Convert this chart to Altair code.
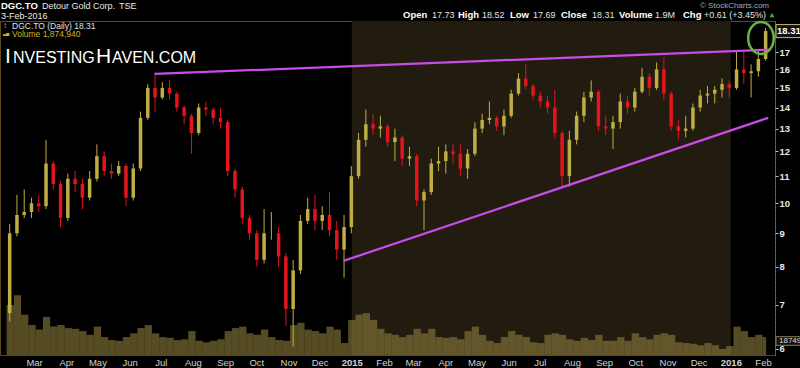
import altair as alt
import pandas as pd
import numpy as np

# ---------------- data (weekly bars) ----------------
week_start = pd.date_range("2014-02-03", periods=105, freq="7D")

first_open = 6.8
closes = [9.0, 9.6, 9.7, 10.0, 9.9, 11.5, 10.7, 9.5, 10.9, 10.7,
          10.2, 10.9, 11.8, 11.2, 11.1, 11.4, 10.2, 11.3, 13.5, 15.0,
          14.5, 15.0, 14.7, 14.0, 13.6, 12.8, 14.0, 13.9, 13.5, 13.3,
          11.2, 10.5, 9.5, 9.0, 8.2, 9.0, 9.0, 8.3, 6.9, 7.9,
          9.4, 9.8, 9.4, 9.6, 9.1, 8.5, 9.2, 11.0, 12.5, 13.2,
          13.0, 13.1, 12.4, 12.6, 11.7, 11.8, 10.1, 10.4, 11.5, 11.6,
          12.0, 11.9, 11.3, 11.9, 13.0, 13.4, 13.5, 13.1, 13.6, 14.7,
          15.5, 15.1, 14.6, 14.3, 14.0, 12.8, 11.0, 12.5, 13.6, 14.5,
          14.8, 13.1, 13.0, 13.3, 14.3, 14.0, 14.8, 15.6, 15.0, 16.0,
          14.7, 13.1, 12.9, 13.0, 14.0, 14.6, 14.7, 14.9, 15.2, 15.0,
          16.0, 15.8, 15.9, 16.6, 18.31]
highs = [9.3, 10.3, 10.5, 10.2, 10.3, 12.5, 11.6, 10.8, 11.1, 11.2,
         10.9, 11.2, 12.3, 12.0, 11.5, 11.6, 11.5, 11.5, 13.8, 15.2,
         15.7, 15.3, 15.4, 14.8, 14.1, 13.7, 14.2, 14.3, 14.0, 14.0,
         13.4, 11.3, 10.6, 9.6, 9.1, 9.8, 9.7, 9.2, 8.4, 8.2,
         9.6, 10.2, 10.3, 9.9, 10.4, 9.4, 9.6, 11.4, 12.8, 13.9,
         13.7, 13.6, 13.2, 13.0, 12.7, 12.2, 11.9, 10.5, 11.7, 12.2,
         12.3, 12.3, 12.3, 12.1, 13.3, 13.7, 14.3, 13.6, 13.9, 14.9,
         15.8, 16.3, 15.2, 14.8, 14.6, 14.9, 12.9, 12.9, 13.8, 14.8,
         15.4, 14.9, 13.6, 13.6, 14.7, 14.6, 15.0, 16.1, 15.8, 16.4,
         16.7, 14.8, 13.4, 13.6, 14.2, 14.9, 15.1, 15.1, 15.5, 15.4,
         17.1, 17.0, 16.3, 17.1, 18.52]
lows = [6.6, 8.9, 9.5, 9.5, 9.7, 9.8, 10.5, 9.2, 9.4, 10.4,
        9.8, 10.1, 10.8, 11.0, 10.9, 11.0, 9.9, 10.1, 11.2, 13.4,
        13.8, 14.4, 14.4, 13.8, 13.2, 11.9, 12.7, 13.6, 13.2, 13.0,
        11.0, 10.2, 9.3, 8.8, 8.0, 8.1, 8.8, 8.0, 6.5, 6.05,
        7.8, 9.3, 9.1, 9.1, 8.9, 8.2, 7.7, 9.0, 10.9, 12.2,
        12.7, 12.6, 12.2, 11.6, 11.4, 11.4, 9.9, 9.1, 10.3, 11.2,
        11.1, 11.5, 11.0, 10.9, 11.8, 12.8, 13.2, 12.9, 12.7, 13.5,
        14.6, 14.9, 14.4, 14.0, 13.7, 12.6, 10.6, 10.6, 12.3, 13.3,
        14.3, 12.9, 12.7, 12.1, 13.0, 13.7, 13.8, 14.7, 14.6, 14.9,
        14.4, 12.9, 12.5, 12.6, 12.9, 13.8, 14.2, 14.2, 14.5, 14.5,
        14.9, 15.2, 14.5, 15.6, 16.5]
# average daily volume per week, millions
volumes_m = [6.7, 8.0, 5.4, 4.0, 3.4, 5.1, 3.8, 4.0, 3.6, 3.5,
             3.2, 2.7, 3.8, 2.4, 2.0, 1.9, 2.4, 2.9, 3.6, 4.0,
             2.9, 2.4, 2.3, 2.0, 2.1, 3.2, 1.9, 1.7, 1.9, 2.1,
             3.2, 3.6, 3.8, 2.9, 2.7, 3.4, 2.4, 2.0, 1.9, 4.0,
             4.3, 3.4, 3.2, 2.9, 3.8, 3.4, 1.6, 4.7, 5.4, 5.6,
             4.7, 3.5, 2.9, 2.7, 2.4, 2.7, 3.5, 2.9, 3.5, 2.4,
             2.3, 2.4, 2.1, 3.2, 3.8, 2.7, 1.9, 1.6, 2.4, 3.2,
             2.7, 2.4, 1.7, 1.6, 2.7, 2.9, 2.7, 2.1, 1.9, 2.3,
             2.0, 2.7, 1.9, 1.9, 2.4, 1.9, 2.9, 2.4, 2.1, 2.7,
             2.9, 2.7, 1.7, 1.6, 1.5, 1.3, 1.6, 1.3, 0.8, 1.2,
             3.8, 3.2, 2.4, 2.7, 2.4]

trend_dates = ["2014-06-25", "2016-02-07", "2014-12-24", "2016-02-06"]
trend_prices = [15.75, 17.15, 8.17, 13.5]
trend_ids = ["upper", "upper", "lower", "lower"]

last_close = 18.31
last_volume_m = 1.87494
circle_date = "2016-01-30"
circle_price = 17.87

price_ticks = [6, 7, 8, 9, 10, 11, 12, 13, 14, 15, 16, 17]

# ---------------- tables ----------------
opens = [first_open] + closes[:-1]
candles = pd.DataFrame({
    "date": week_start + pd.Timedelta(hours=60),
    "open": opens, "high": highs, "low": lows, "close": closes,
})
candles["dir"] = np.where(candles["close"] >= candles["open"], "up", "down")

vol = pd.DataFrame({
    "date": week_start - pd.Timedelta(hours=12),
    "date2": week_start + pd.Timedelta(hours=156),
    "vol": volumes_m,
})
vol.loc[len(vol) - 1, "date2"] = pd.Timestamp("2016-02-04")

trend = pd.DataFrame({"date": pd.to_datetime(trend_dates), "price": trend_prices, "line": trend_ids})
band = pd.DataFrame({"date": [pd.Timestamp("2015-01-01")], "date2": [pd.Timestamp("2016-01-01")]})
circle = pd.DataFrame({"date": [pd.Timestamp(circle_date)], "price": [circle_price]})
lastp = pd.DataFrame({"price": [last_close], "t": [f"{last_close:.2f}"]})
lastv = pd.DataFrame({"vol": [last_volume_m], "t": ["1874940"]})

# ---------------- scales & axes ----------------
W, H = 775, 334
TOP = 21
x_scale = alt.Scale(domain=[alt.DateTime(year=2014, month=2, date=1),
                            alt.DateTime(year=2016, month=2, date=7, hours=17)])
tick_vals = []
for y in (2014, 2015, 2016):
    for m in range(1, 13):
        if (y == 2014 and m < 3) or (y == 2016 and m > 2):
            continue
        tick_vals.append(alt.DateTime(year=y, month=m, date=1))

x_axis = alt.Axis(
    values=tick_vals,
    labelExpr="month(datum.value) == 0 ? timeFormat(datum.value, '%Y') : timeFormat(datum.value, '%b')",
    labelFontWeight={"condition": {"test": "month(datum.value) == 0", "value": "bold"}, "value": "normal"},
    ticks=False, domain=False, grid=False, labelColor="#d2d2d2", labelFont="Liberation Sans",
    labelFontSize=9.5, labelPadding=2, labelAngle=0, title=None, labelOverlap=False, labelFlush=False,
)
y_scale = alt.Scale(type="log", domain=[5.87, 18.97], nice=False)
y_axis = alt.Axis(
    orient="right", values=price_ticks, format="d", labelColor="#e8e8e8", labelFont="Liberation Sans",
    labelFontSize=9.5, labelFontWeight="bold", tickSize=3, tickColor="#bbbbbb", domainColor="#8a6a28",
    domainDash=[2, 2], labelPadding=1, grid=False, title=None, labelOverlap=False, labelFlush=False,
)
v_scale = alt.Scale(domain=[0, 44.7], nice=False, zero=True)

UP, DOWN = "#bfae45", "#e3141c"
color = alt.Color("dir:N", scale=alt.Scale(domain=["up", "down"], range=[UP, DOWN]), legend=None)

# ---------------- layers ----------------
band_layer = alt.Chart(band).mark_rect(color="#221c10").encode(
    x=alt.X("date:T", scale=x_scale, axis=x_axis), x2="date2:T",
    y=alt.value(0), y2=alt.value(H),
)

vol_bars = alt.Chart(vol).mark_rect(color="#8a7a3a", opacity=0.62).encode(
    x=alt.X("date:T", scale=x_scale, axis=x_axis), x2="date2:T",
    y=alt.Y("vol:Q", scale=v_scale, axis=None), y2=alt.value(H),
)
vol_box = alt.Chart(lastv).mark_point(
    shape="M -1 -0.27 L 1 -0.27 L 1 0.27 L -1 0.27 Z", size=1024, filled=True,
    fill="#141208", stroke="#8a7d55", strokeWidth=1, opacity=1,
).encode(x=alt.value(792), y=alt.Y("vol:Q", scale=v_scale, axis=None))
vol_txt = alt.Chart(lastv).mark_text(align="left", baseline="middle", fontSize=8,
                                     font="Liberation Sans", color="#dddddd").encode(
    x=alt.value(779), y=alt.Y("vol:Q", scale=v_scale, axis=None), text="t:N")
volume_layer = alt.layer(vol_bars, vol_box, vol_txt)

wicks = alt.Chart(candles).mark_rule(strokeWidth=1).encode(
    x=alt.X("date:T", scale=x_scale, axis=x_axis),
    y=alt.Y("low:Q", scale=y_scale, axis=y_axis), y2="high:Q", color=color,
)
bodies = alt.Chart(candles).mark_bar(width=3.5).encode(
    x=alt.X("date:T", scale=x_scale, axis=x_axis),
    y=alt.Y("open:Q", scale=y_scale, axis=y_axis), y2="close:Q", color=color,
)
lines = alt.Chart(trend).mark_line(color="#c94ce6", strokeWidth=2.2).encode(
    x=alt.X("date:T", scale=x_scale, axis=x_axis),
    y=alt.Y("price:Q", scale=y_scale, axis=y_axis), detail="line:N",
)
ellipse = alt.Chart(circle).mark_point(
    shape="M -0.8 0 A 0.8 1 0 1 1 0.8 0 A 0.8 1 0 1 1 -0.8 0 Z",
    size=1024, filled=False, stroke="#6db33f", strokeWidth=2.5, opacity=1,
).encode(
    x=alt.X("date:T", scale=x_scale, axis=x_axis),
    y=alt.Y("price:Q", scale=y_scale, axis=y_axis),
)
price_box = alt.Chart(lastp).mark_point(
    shape="M -1 -0.5 L 1 -0.5 L 1 0.5 L -1 0.5 Z", size=676, filled=True,
    fill="#111111", stroke="#c9b870", strokeWidth=1, opacity=1,
).encode(x=alt.value(789), y=alt.Y("price:Q", scale=y_scale, axis=y_axis))
price_txt = alt.Chart(lastp).mark_text(align="left", baseline="middle", fontSize=9.5,
                                       fontWeight="bold", font="Liberation Sans", color="#ffffff").encode(
    x=alt.value(777), y=alt.Y("price:Q", scale=y_scale, axis=y_axis), text="t:N")
price_layer = alt.layer(wicks, bodies, lines, ellipse, price_box, price_txt)


def txt(s, px, py, size, weight="normal", color="#e6e6e6", align="left", baseline="middle"):
    return alt.Chart(pd.DataFrame({"t": [s]})).mark_text(
        align=align, baseline=baseline, fontSize=size, fontWeight=weight,
        color=color, font="Liberation Sans",
    ).encode(x=alt.value(px), y=alt.value(py - TOP), text="t:N")


header_labels = ["Open", "High", "Low", "Close", "Volume", "Chg"]
header_values = ["17.73", "18.52", "17.69", "18.31", "1.9M", "+0.61 (+3.45%)"]
header_label_x = [403, 458, 510, 561, 619, 683]
header_value_x = [432, 482, 533, 592, 655, 704]

texts = [
    txt("DGC.TO", 1, 6, 9.5, "bold", "#ffffff"),
    txt("Detour Gold Corp.", 42, 6, 9, color="#e8e8e8"),
    txt("TSE", 119, 6, 9, color="#e8e8e8"),
    txt("3-Feb-2016", 1, 16, 9, color="#e8e8e8"),
    txt("\u00a9 StockCharts.com", 700, 6, 8, color="#a8a8a8"),
    txt("\u2195", 3, 25.5, 8, color="#d4b21c"),
    txt("DGC.TO (Daily) 18.31", 12, 25.5, 8.5, color="#e0e0e0"),
    txt("\u2583\u2585", 3, 34, 4, color="#d4b21c"),
    txt("Volume 1,874,940", 12, 34, 8.5, color="#d4b21c"),
    txt("I", 5, 63, 21, color="#ffffff", baseline="alphabetic"),
    txt("NVESTING", 13, 63, 16, color="#ffffff", baseline="alphabetic"),
    txt("H", 96, 63, 21, color="#ffffff", baseline="alphabetic"),
    txt("AVEN.COM", 112, 63, 16, color="#ffffff", baseline="alphabetic"),
]
for lab, lx, val, vx in zip(header_labels, header_label_x, header_values, header_value_x):
    texts.append(txt(lab, lx, 15, 9.5, "bold", "#ffffff"))
    texts.append(txt(val, vx, 15, 9, color="#e0e0e0"))

tri = alt.Chart(pd.DataFrame({"t": ["up"]})).mark_point(
    shape="triangle-up", size=26, filled=True, color="#33aa44", opacity=1
).encode(x=alt.value(772), y=alt.value(15 - TOP))

chart = alt.layer(band_layer, volume_layer, price_layer, *texts, tri).resolve_scale(
    y="independent"
).properties(
    width=W, height=H,
    padding={"left": 0, "top": TOP, "right": 25, "bottom": 13},
    autosize=alt.AutoSizeParams(type="none"),
    background="#000000",
).configure_view(stroke="#5c4a1c", strokeWidth=1)

chart.save("out.html", embed_options={"renderer": "svg", "actions": False})
